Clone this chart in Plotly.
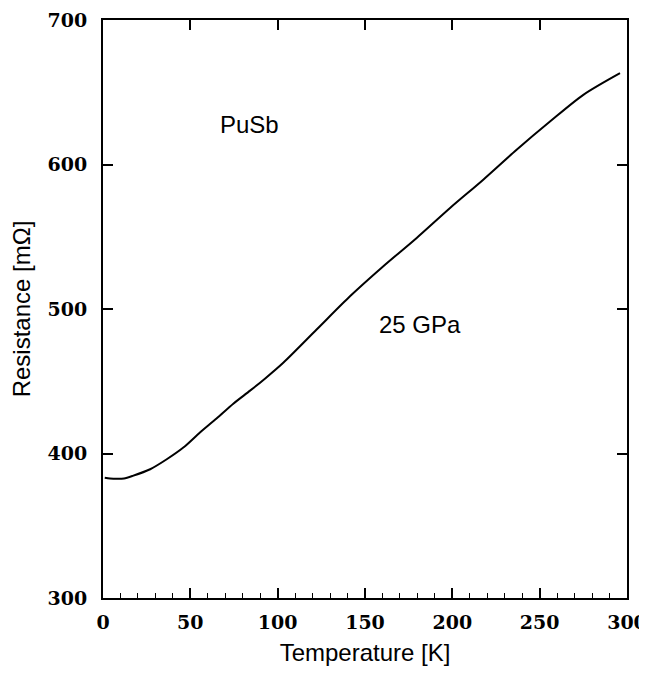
import plotly.graph_objects as go

temperature_K = [1, 4, 8, 12, 17, 27, 36.5, 46, 55.5, 65, 74.6, 84.2, 92.7, 103.2,
                 122.3, 141.4, 160.5, 179.6, 198.7, 217.7, 236.8, 255.9, 275, 296]
resistance_mOhm = [383.2, 382.7, 382.5, 382.7, 384.5, 389.1, 396, 404.1, 414.5, 424.2,
                   434.5, 443.5, 451.8, 462.8, 485.8, 508.8, 529.6, 549.2, 569.9,
                   589.5, 610.2, 629.7, 648.2, 663.2]

x_ticks = [0, 50, 100, 150, 200, 250, 300]
y_ticks = [300, 400, 500, 600, 700]

label_font = dict(family="DejaVu Serif", size=19, color="black", weight="bold")
title_font = dict(family="Liberation Sans, Arial", size=24, color="black")

fig = go.Figure()
fig.add_trace(go.Scatter(
    x=temperature_K, y=resistance_mOhm, mode="lines",
    line=dict(color="black", width=2, shape="spline", smoothing=0.8),
    showlegend=False, hoverinfo="skip"))
fig.add_trace(go.Scatter(x=[0, 300], y=[300, 300], xaxis="x2", mode="markers",
                         marker=dict(opacity=0), showlegend=False, hoverinfo="skip"))

# the page body adds an 8px margin, so the figure is sized/offset to compensate
fig.update_layout(
    width=647, height=658,
    margin=dict(l=95, r=28, t=12, b=68),
    paper_bgcolor="white", plot_bgcolor="white",
    xaxis=dict(
        range=[0, 300], tickvals=x_ticks, ticks="inside", ticklen=10, tickwidth=1.5,
        tickcolor="black", showline=True, linecolor="black", linewidth=2, mirror=True,
        showgrid=False, zeroline=False, tickfont=label_font, ticklabelstandoff=6,
        automargin=False, ticklabeloverflow="allow",
        minor=dict(dtick=10, ticks="inside", ticklen=5, tickwidth=1.2, tickcolor="black",
                   showgrid=False),
        title=dict(text="Temperature [K]", font=title_font, standoff=12),
    ),
    xaxis2=dict(
        range=[0, 300], overlaying="x", side="top", tickvals=x_ticks, ticks="inside",
        ticklen=10, tickwidth=1.5, tickcolor="black", showticklabels=False,
        showgrid=False, zeroline=False, showline=False, automargin=False,
    ),
    yaxis=dict(
        range=[300, 700], tickvals=y_ticks, ticks="inside", ticklen=10, tickwidth=1.5,
        tickcolor="black", showline=True, linecolor="black", linewidth=2, mirror="ticks",
        showgrid=False, zeroline=False, tickfont=label_font, ticklabelstandoff=10,
        automargin=False, ticklabeloverflow="allow",
        title=dict(text="Resistance [mΩ]", font=title_font, standoff=12),
    ),
    annotations=[
        dict(x=84, y=627.5, xref="x", yref="y", text="PuSb", showarrow=False,
             font=title_font, xanchor="center", yanchor="middle"),
        dict(x=181.5, y=489, xref="x", yref="y", text="25 GPa", showarrow=False,
             font=title_font, xanchor="center", yanchor="middle"),
    ],
)

fig.write_html("out.html")
